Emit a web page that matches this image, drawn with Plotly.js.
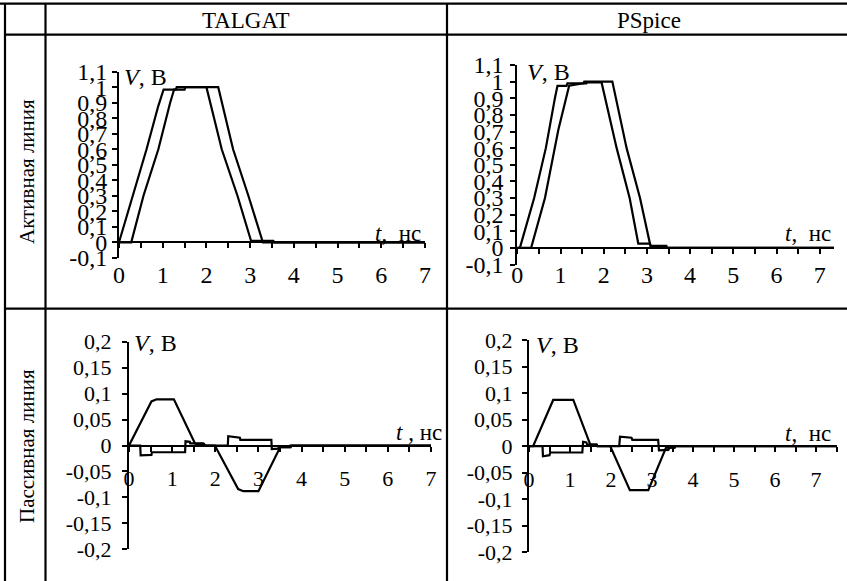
<!DOCTYPE html>
<html>
<head>
<meta charset="utf-8">
<script src="https://cdn.plot.ly/plotly-3.0.1.min.js"></script>
<style>
  html, body { margin: 0; padding: 0; background: #fff; }
  #chart { width: 847px; height: 581px; }
</style>
</head>
<body>
<div id="chart"></div>
<script>
// Tick positions and labels
const timeTicks = [0, 1, 2, 3, 4, 5, 6, 7];
const timeTickText = ['0', '1', '2', '3', '4', '5', '6', '7'];
const activeTicks = [-0.1, 0, 0.1, 0.2, 0.3, 0.4, 0.5, 0.6, 0.7, 0.8, 0.9, 1, 1.1];
const activeTickText = ['-0,1', '0', '0,1', '0,2', '0,3', '0,4', '0,5', '0,6', '0,7', '0,8', '0,9', '1', '1,1'];
const passiveTicks = [-0.2, -0.15, -0.1, -0.05, 0, 0.05, 0.1, 0.15, 0.2];
const passiveTickText = ['-0,2', '-0,15', '-0,1', '-0,05', '0', '0,05', '0,1', '0,15', '0,2'];

// Column and row captions
const columnTitles = ['TALGAT', 'PSpice'];
const rowTitles = ['Активная линия', 'Пассивная линия'];

// TALGAT, active line: near end and far end voltages (t in ns, V in volts)
const talgatActNearT = [0, 0.3, 0.63, 0.9, 1.0, 1.02, 1.3, 1.32, 2.0, 2.35, 2.71, 3.02, 3.27, 3.29, 7];
const talgatActNearV = [0, 0.29, 0.6, 0.88, 0.975, 0.985, 0.985, 1.0, 1.0, 0.6, 0.3, 0.01, 0.01, 0, 0];
const talgatActFarT = [0, 0.28, 0.56, 0.9, 1.17, 1.26, 1.5, 1.52, 2.27, 2.61, 2.96, 3.28, 3.53, 3.55, 7];
const talgatActFarV = [0, 0, 0.3, 0.6, 0.9, 0.985, 0.985, 1.0, 1.0, 0.6, 0.3, 0.01, 0.01, 0, 0];

// PSpice, active line
const pspiceActNearT = [0, 0.06, 0.39, 0.66, 0.87, 0.93, 1.14, 1.16, 1.6, 1.62, 1.95, 2.3, 2.6, 2.8, 3.07, 3.09, 3.3, 3.32, 7.33];
const pspiceActNearV = [0, 0, 0.3, 0.6, 0.9, 0.975, 0.975, 0.99, 0.99, 0.995, 0.995, 0.6, 0.3, 0.026, 0.026, 0.01, 0.01, 0, 0];
const pspiceActFarT = [0, 0.32, 0.64, 0.95, 1.2, 1.53, 1.55, 2.2, 2.53, 2.84, 3.08, 3.45, 3.47, 7.33];
const pspiceActFarV = [0, 0, 0.3, 0.71, 0.975, 0.99, 1.0, 1.0, 0.6, 0.3, 0.014, 0.012, 0, 0];

// TALGAT, passive line: near end and far end crosstalk
const talgatPasNearT = [0, 0.52, 0.64, 1.04, 1.53, 1.55, 1.74, 1.76, 1.99, 2.53, 2.65, 3.0, 3.5, 3.52, 3.75, 3.77, 7];
const talgatPasNearV = [0, 0.085, 0.089, 0.089, 0.004, 0.003, 0.003, 0, 0, -0.084, -0.088, -0.088, -0.004, -0.003, -0.003, 0, 0];
const talgatPasFarT = [0, 0.26, 0.27, 0.52, 0.53, 1.3, 1.31, 1.41, 1.42, 1.71, 1.72, 2.29, 2.3, 2.57, 2.58, 3.3, 3.31, 3.46, 3.47, 3.73, 3.74, 7];
const talgatPasFarV = [0, 0, -0.019, -0.018, -0.013, -0.013, 0.008, 0.007, 0.004, 0.004, 0, 0, 0.018, 0.015, 0.011, 0.011, -0.007, -0.006, -0.003, -0.003, 0, 0];

// PSpice, passive line
const pspicePasNearT = [0, 0.1, 0.59, 1.08, 1.49, 1.51, 1.65, 1.67, 1.98, 2.46, 2.91, 3.32, 3.34, 3.55, 3.57, 7.5];
const pspicePasNearV = [0, 0, 0.087, 0.087, 0.004, 0.003, 0.003, 0, 0, -0.083, -0.083, -0.004, -0.003, -0.003, 0, 0];
const pspicePasFarT = [0, 0.33, 0.34, 0.5, 0.52, 1.3, 1.32, 1.4, 1.42, 1.65, 1.67, 2.2, 2.22, 2.5, 2.52, 3.15, 3.17, 3.4, 3.42, 3.55, 3.57, 7.5];
const pspicePasFarV = [0, 0, -0.019, -0.017, -0.012, -0.012, 0.008, 0.007, 0.003, 0.003, 0, 0, 0.018, 0.016, 0.012, 0.012, -0.008, -0.007, -0.003, -0.003, 0, 0];

// Page geometry helpers (pixels -> paper fractions)
const W = 847, H = 581;
const px = v => v / W;
const py = v => 1 - v / H;

const FONT = 'Liberation Serif, Times New Roman, serif';
const INK = '#000';

// Panel boxes in page pixels: left, right, top, bottom
const panels = [
  { id: '', box: [119, 425, 71.7, 257.8], xr: [0, 7], yr: [-0.1, 1.1], ticks: activeTicks, text: activeTickText,
    series: [[talgatActNearT, talgatActNearV], [talgatActFarT, talgatActFarV]],
    vLab: [122, 77], tLab: [423, 233], tText: '<i>t</i>,\u00a0\u00a0нс', ystand: 0, xstand: 6, tf: 24 },
  { id: '2', box: [517.3, 834, 65, 264.5], xr: [0, 7.33], yr: [-0.1, 1.1], ticks: activeTicks, text: activeTickText,
    series: [[pspiceActNearT, pspiceActNearV], [pspiceActFarT, pspiceActFarV]],
    vLab: [525, 72], tLab: [833, 233], tText: '<i>t</i>,\u00a0\u00a0нс', ystand: 2, xstand: 0, tf: 24 },
  { id: '3', box: [129, 431, 341.7, 549.3], xr: [0, 7], yr: [-0.2, 0.2], ticks: passiveTicks, text: passiveTickText,
    series: [[talgatPasNearT, talgatPasNearV], [talgatPasFarT, talgatPasFarV]],
    vLab: [132, 343], tLab: [444, 432], tText: '<i>t</i>\u00a0, нс', ystand: 6, xstand: 8, tf: 22 },
  { id: '4', box: [529, 836.5, 340, 552.3], xr: [0, 7.5], yr: [-0.2, 0.2], ticks: passiveTicks, text: passiveTickText,
    series: [[pspicePasNearT, pspicePasNearV], [pspicePasFarT, pspicePasFarV]],
    vLab: [534, 345], tLab: [833, 433], tText: '<i>t</i>,\u00a0\u00a0нс', ystand: 5, xstand: 8, tf: 22 }
];

const data = [];
const layout = {
  width: W, height: H,
  margin: { l: 0, r: 0, t: 0, b: 0 },
  paper_bgcolor: '#fff', plot_bgcolor: 'rgba(0,0,0,0)',
  showlegend: false,
  font: { family: FONT, color: INK, size: 20 },
  annotations: [], shapes: []
};

panels.forEach(p => {
  const [l, r, t, b] = p.box;
  const xa = 'xaxis' + p.id, ya = 'yaxis' + p.id;
  const yDom = [py(b), py(t)];
  // x axis crosses the y axis at V = 0
  const zeroPos = yDom[0] + (0 - p.yr[0]) / (p.yr[1] - p.yr[0]) * (yDom[1] - yDom[0]);
  layout[xa] = {
    domain: [px(l), px(r)], range: p.xr, anchor: 'free', position: zeroPos,
    showgrid: false, zeroline: false, showline: true, linecolor: INK, linewidth: 2,
    tickmode: 'array', tickvals: timeTicks, ticktext: timeTickText,
    ticks: 'outside', ticklen: 5, tickwidth: 2, tickcolor: INK,
    ticklabelstandoff: p.xstand,
    minor: { tickmode: 'linear', tick0: 0, dtick: 0.5, ticks: 'outside', ticklen: 5, tickwidth: 2, tickcolor: INK },
    tickfont: { family: FONT, size: p.tf, color: INK }, fixedrange: true
  };
  layout[ya] = {
    domain: yDom, range: p.yr, anchor: 'x' + p.id,
    showgrid: false, zeroline: false, showline: true, linecolor: INK, linewidth: 2,
    tickmode: 'array', tickvals: p.ticks, ticktext: p.text,
    ticks: 'outside', ticklen: 5, tickwidth: 2, tickcolor: INK,
    ticklabelstandoff: p.ystand,
    tickfont: { family: FONT, size: p.tf, color: INK }, fixedrange: true
  };
  p.series.forEach(([xs, ys]) => {
    data.push({
      type: 'scatter', mode: 'lines', x: xs, y: ys,
      xaxis: 'x' + p.id, yaxis: 'y' + p.id,
      line: { color: INK, width: 2.2 }, hoverinfo: 'skip', cliponaxis: false
    });
  });
  layout.annotations.push({
    xref: 'paper', yref: 'paper', x: px(p.vLab[0]), y: py(p.vLab[1]),
    xanchor: 'left', yanchor: 'middle', showarrow: false,
    text: '<i>V</i>, В', font: { family: FONT, size: 24, color: INK }
  });
  layout.annotations.push({
    xref: 'paper', yref: 'paper', x: px(p.tLab[0]), y: py(p.tLab[1]),
    xanchor: 'right', yanchor: 'middle', showarrow: false,
    text: p.tText, font: { family: FONT, size: 23, color: INK }
  });
});

// Column headers
[[246, columnTitles[0]], [649, columnTitles[1]]].forEach(([x, txt]) => {
  layout.annotations.push({
    xref: 'paper', yref: 'paper', x: px(x), y: py(20), xanchor: 'center', yanchor: 'middle',
    showarrow: false, text: txt, font: { family: FONT, size: 23, color: INK }
  });
});
// Row captions, written bottom-to-top
[[172, rowTitles[0]], [446, rowTitles[1]]].forEach(([y, txt]) => {
  layout.annotations.push({
    xref: 'paper', yref: 'paper', x: px(27), y: py(y), xanchor: 'center', yanchor: 'middle',
    textangle: -90, showarrow: false, text: txt, font: { family: FONT, size: 21, color: INK }
  });
});

// Table rules
const rule = (x0, y0, x1, y1) => ({
  type: 'line', xref: 'paper', yref: 'paper',
  x0: px(x0), y0: py(y0), x1: px(x1), y1: py(y1),
  line: { color: INK, width: 2.2 }
});
layout.shapes.push(
  rule(0, 3.7, W, 3.7),
  rule(5, 34.7, W, 34.7),
  rule(5, 308.7, W, 308.7),
  rule(5, 3.7, 5, H),
  rule(45.5, 3.7, 45.5, H),
  rule(447, 3.7, 447, H)
);

Plotly.newPlot('chart', data, layout, { staticPlot: true, displayModeBar: false });
</script>
</body>
</html>
